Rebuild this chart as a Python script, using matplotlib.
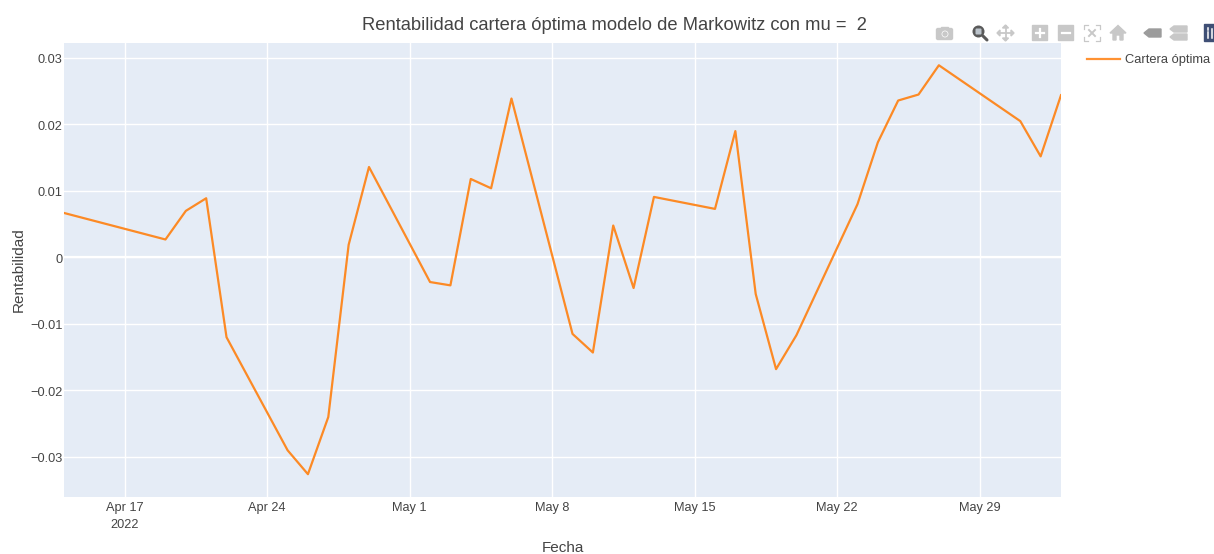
import datetime as dt
import matplotlib
matplotlib.use("Agg")
import matplotlib.pyplot as plt
import matplotlib.dates as mdates
from matplotlib.patches import Rectangle, Circle, Polygon, FancyBboxPatch
from matplotlib.transforms import ScaledTranslation

plt.rcParams['font.family'] = ['Liberation Sans', 'DejaVu Sans']

# datos
fechas = ["2022-04-14", "2022-04-19", "2022-04-20", "2022-04-21", "2022-04-22",
          "2022-04-25", "2022-04-26", "2022-04-27", "2022-04-28", "2022-04-29",
          "2022-05-02", "2022-05-03", "2022-05-04", "2022-05-05", "2022-05-06",
          "2022-05-09", "2022-05-10", "2022-05-11", "2022-05-12", "2022-05-13",
          "2022-05-16", "2022-05-17", "2022-05-18", "2022-05-19", "2022-05-20",
          "2022-05-23", "2022-05-24", "2022-05-25", "2022-05-26", "2022-05-27",
          "2022-05-31", "2022-06-01", "2022-06-02"]
rentabilidad = [0.0067, 0.0027, 0.0070, 0.0089, -0.0120,
                -0.0290, -0.0326, -0.0240, 0.0019, 0.0136,
                -0.0037, -0.0042, 0.0118, 0.0104, 0.0239,
                -0.0115, -0.0143, 0.0048, -0.0046, 0.0091,
                0.0073, 0.0190, -0.0055, -0.0168, -0.0117,
                0.0080, 0.0173, 0.0236, 0.0245, 0.0289,
                0.0205, 0.0152, 0.0244]

x_ticks = ["2022-04-17", "2022-04-24", "2022-05-01", "2022-05-08",
           "2022-05-15", "2022-05-22", "2022-05-29"]
x_labels = ["Apr 17\n2022", "Apr 24", "May 1", "May 8", "May 15", "May 22", "May 29"]
y_ticks = [-0.03, -0.02, -0.01, 0, 0.01, 0.02, 0.03]
y_labels = ["\u22120.03", "\u22120.02", "\u22120.01", "0", "0.01", "0.02", "0.03"]

W, H = 1214, 554
gris = "#444444"
fecha = [dt.datetime.strptime(f, "%Y-%m-%d") for f in fechas]

fig = plt.figure(figsize=(W / 100, H / 100), dpi=100)
ax = fig.add_axes([63.7 / W, 1 - 497 / H, (1061 - 63.7) / W, (497 - 43) / H])
ax.set_facecolor("#e5ecf6")

ax.plot(fecha, rentabilidad, color="#ff7f0e", lw=1.6, alpha=0.9, solid_joinstyle="round",
        zorder=3, label="Cartera óptima")

ax.set_xlim(fecha[0], fecha[-1])
ax.set_ylim(-0.03603, 0.03225)
ax.set_xticks([mdates.date2num(dt.datetime.strptime(t, "%Y-%m-%d")) for t in x_ticks])
ax.set_xticklabels(x_labels, linespacing=1.55)
ax.set_yticks(y_ticks)
ax.set_yticklabels(y_labels)
ax.tick_params(length=0, labelsize=9.2, labelcolor=gris)
ax.tick_params(axis="x", pad=3.8)
ax.tick_params(axis="y", pad=1)
ax.grid(True, color="white", lw=1.0, zorder=1)
ax.axhline(0, color="white", lw=1.6, zorder=2)
ax.set_axisbelow(True)
for s in ax.spines.values():
    s.set_visible(False)

# las etiquetas del eje y van un pixel mas abajo
baja = ScaledTranslation(0, -1 / 100, fig.dpi_scale_trans)
for lab in ax.get_yticklabels():
    lab.set_transform(lab.get_transform() + baja)

fig.text(614 / W, 1 - 26 / H, "Rentabilidad cartera óptima modelo de Markowitz con mu =  2",
         ha="center", va="center", fontsize=13.25, color=gris)
fig.text(562.5 / W, 1 - 548 / H, "Fecha", ha="center", va="center", fontsize=11, color=gris)
fig.text(18.5 / W, 1 - 269.5 / H, "Rentabilidad", ha="center", va="center", rotation=90,
         fontsize=11, color=gris)

# leyenda a mano, para dejarla en su sitio
over = fig.add_axes([0, 0, 1, 1], facecolor="none")
over.set_xlim(0, W)
over.set_ylim(H, 0)
over.axis("off")
over.plot([1087, 1120], [59, 59], color="#ff7f0e", lw=1.6, alpha=0.85)
over.text(1125, 60.5, "Cartera óptima", fontsize=9.25, color=gris, va="center", ha="left")

# barra de herramientas de plotly
c = "#c8c8c8"
over.add_patch(FancyBboxPatch((937, 29), 15, 10, boxstyle="round,pad=0.5,rounding_size=1.5", color=c))
over.add_patch(Rectangle((941, 27), 7, 3, color=c))
over.add_patch(Circle((945, 34), 3.4, facecolor="white", edgecolor="none"))
over.add_patch(Circle((945, 34), 2, color=c))
# lupa activa
over.add_patch(Circle((978.5, 31.5), 6, facecolor="#5a5a5a", edgecolor="none"))
over.add_patch(FancyBboxPatch((975.5, 28.5), 6, 6, boxstyle="round,pad=0,rounding_size=1",
                              facecolor="#bcc4cc", edgecolor="none"))
over.plot([983, 987], [36, 40], color="#5a5a5a", lw=2.2, solid_capstyle="round")
# flechas de mover
over.plot([998, 1013], [33, 33], color=c, lw=1.3)
over.plot([1005.5, 1005.5], [26, 40], color=c, lw=1.3)
for pts in ([[997, 33], [1000, 30], [1000, 36]], [[1014, 33], [1011, 30], [1011, 36]],
            [[1005.5, 25], [1002.5, 28], [1008.5, 28]], [[1005.5, 41], [1002.5, 38], [1008.5, 38]]):
    over.add_patch(Polygon(pts, color=c))
# mas y menos
over.add_patch(Rectangle((1032, 25), 15, 15, color=c))
over.plot([1035.5, 1043.5], [32.5, 32.5], color="white", lw=1.6)
over.plot([1039.5, 1039.5], [28.5, 36.5], color="white", lw=1.6)
over.add_patch(Rectangle((1058, 25), 15, 15, color=c))
over.plot([1061.5, 1069.5], [32.5, 32.5], color="white", lw=1.6)
# autoescala
for x0, y0, sx, sy in ((1084, 25, 1, 1), (1100, 25, -1, 1), (1084, 41, 1, -1), (1100, 41, -1, -1)):
    over.plot([x0, x0, x0 + 4 * sx], [y0 + 4 * sy, y0, y0], color=c, lw=0.9)
over.plot([1089, 1095], [30, 36], color=c, lw=1.4)
over.plot([1089, 1095], [36, 30], color=c, lw=1.4)
# casa
over.add_patch(Polygon([[1110, 33], [1118, 25.5], [1126, 33], [1123, 33], [1123, 40],
                        [1120, 40], [1120, 35], [1116, 35], [1116, 40], [1113, 40], [1113, 33]], color=c))
# etiquetas
over.add_patch(Polygon([[1144, 33], [1149, 29], [1161, 29], [1161, 37], [1149, 37]], color="#9c9c9c"))
over.add_patch(Polygon([[1170, 29], [1174, 26], [1187, 26], [1187, 32], [1174, 32]], color=c))
over.add_patch(Polygon([[1170, 37], [1174, 34], [1187, 34], [1187, 40], [1174, 40]], color=c))
# logo
over.add_patch(Rectangle((1204, 24), 10, 17, color="#3f4f75"))
over.plot([1208, 1208], [32, 38], color="white", lw=1.1)
over.plot([1208, 1208], [28, 30], color="white", lw=1.1)
over.plot([1211.5, 1211.5], [29, 38], color="white", lw=1.1)

fig.savefig("out.png", dpi=100)
